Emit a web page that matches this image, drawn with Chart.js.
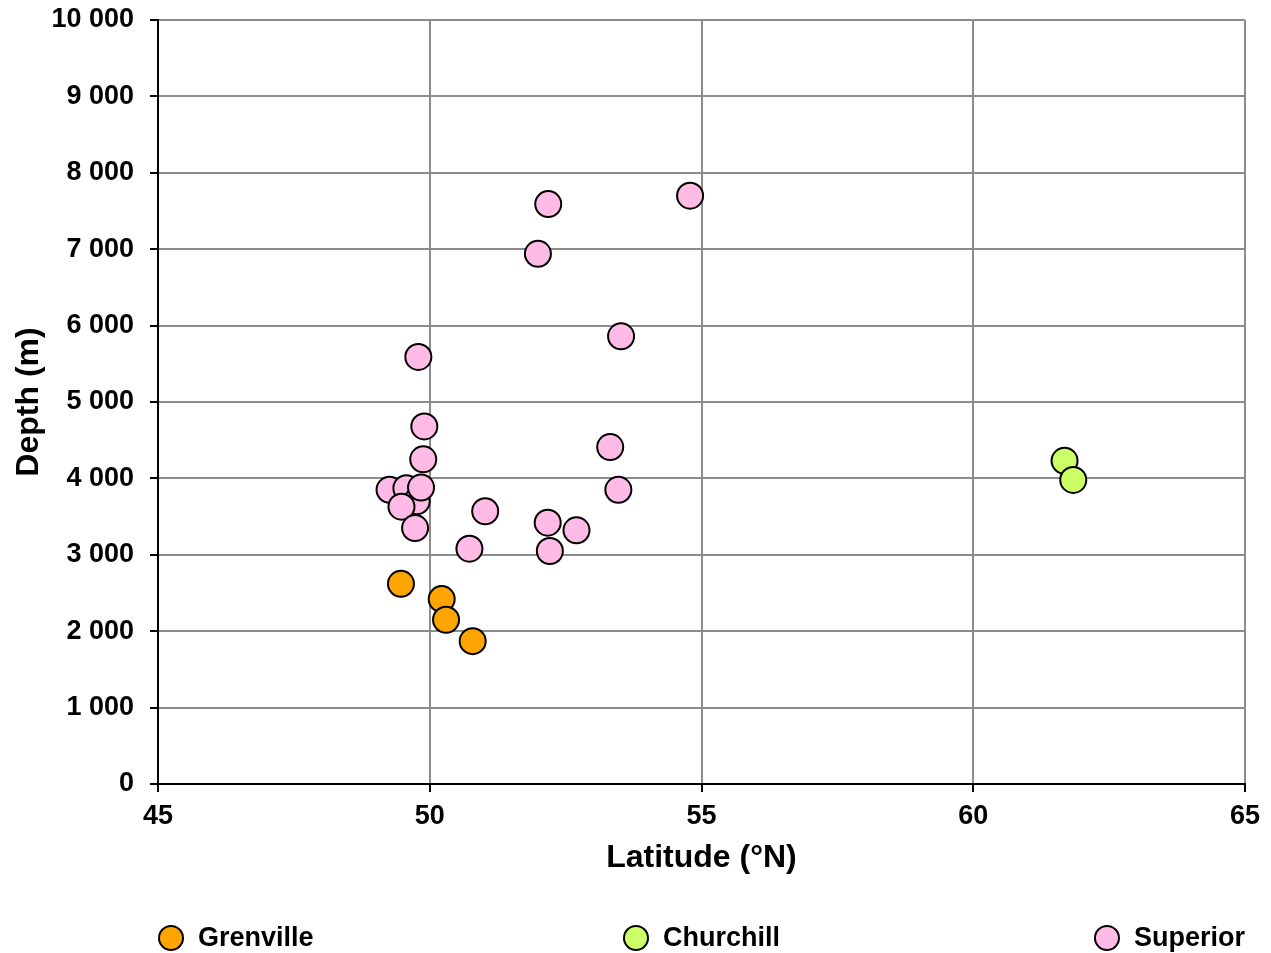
<!DOCTYPE html>
<html>
<head>
<meta charset="utf-8">
<script src="https://cdn.jsdelivr.net/npm/chart.js@4.4.0/dist/chart.umd.min.js"></script>
<style>
  html, body { margin: 0; padding: 0; background: #fff; }
  #wrap { width: 1271px; height: 953px; }
</style>
</head>
<body>
<div id="wrap"><canvas id="depthChart"></canvas></div>
<script>
// Latitude (°N) / depth (m) per province
var grenvilleLat = [49.47, 50.22, 50.30, 50.79];
var grenvilleDepth = [2620, 2420, 2150, 1870];

var churchillLat = [61.68, 61.84];
var churchillDepth = [4230, 3980];

var superiorLat = [49.79, 49.90, 49.88, 49.26, 49.57, 49.76, 49.84, 49.48, 49.73,
                   51.02, 50.73, 52.17, 52.70, 52.21, 53.32, 53.47, 53.52,
                   52.18, 51.99, 54.79];
var superiorDepth = [5590, 4680, 4250, 3850, 3870, 3700, 3880, 3630, 3350,
                     3570, 3080, 3420, 3320, 3050, 4410, 3850, 5860,
                     7590, 6940, 7700];

var seriesNames = ['Grenville', 'Churchill', 'Superior'];
var seriesColors = ['#FFA500', '#CCFF66', '#FFBBE6'];

var xTicks = [45, 50, 55, 60, 65];
var yTicks = [0, 1000, 2000, 3000, 4000, 5000, 6000, 7000, 8000, 9000, 10000];

function toPoints(xs, ys) {
    return xs.map(function (x, i) { return { x: x, y: ys[i] }; });
}

var FONT = '"Liberation Sans", Arial, sans-serif';

// legend spread across the width of the plot area
var spreadLegend = {
    id: 'spreadLegend',
    afterDraw: function (chart) {
        var ctx = chart.ctx;
        var area = chart.chartArea;
        var y = 938;
        var r = 12;
        ctx.save();
        ctx.font = 'bold 27px ' + FONT;
        ctx.textBaseline = 'middle';
        var items = chart.data.datasets.map(function (ds) {
            var w = ctx.measureText(ds.label).width;
            return { ds: ds, w: 2 * r + 16 + w };
        });
        items.forEach(function (it, i) {
            var left;
            if (i === 0) left = area.left;
            else if (i === items.length - 1) left = area.right - it.w;
            else left = (area.left + area.right) / 2 - it.w / 2;
            ctx.beginPath();
            ctx.arc(left + r + 1, y, r, 0, Math.PI * 2);
            ctx.fillStyle = it.ds.backgroundColor;
            ctx.fill();
            ctx.lineWidth = 2;
            ctx.strokeStyle = '#000';
            ctx.stroke();
            ctx.fillStyle = '#000';
            ctx.textAlign = 'left';
            ctx.fillText(it.ds.label, left + 2 * r + 16, y + 1);
        });
        ctx.restore();
    }
};

var ctx = document.getElementById('depthChart').getContext('2d');

var myChart = new Chart(ctx, {
    type: 'scatter',
    data: {
        datasets: [
            {
                label: seriesNames[0],
                data: toPoints(grenvilleLat, grenvilleDepth),
                backgroundColor: seriesColors[0],
                borderColor: '#000',
                borderWidth: 2,
                pointRadius: 13,
                pointHoverRadius: 13
            },
            {
                label: seriesNames[1],
                data: toPoints(churchillLat, churchillDepth),
                backgroundColor: seriesColors[1],
                borderColor: '#000',
                borderWidth: 2,
                pointRadius: 13,
                pointHoverRadius: 13
            },
            {
                label: seriesNames[2],
                data: toPoints(superiorLat, superiorDepth),
                backgroundColor: seriesColors[2],
                borderColor: '#000',
                borderWidth: 2,
                pointRadius: 13,
                pointHoverRadius: 13
            }
        ]
    },
    options: {
        responsive: true,
        maintainAspectRatio: false,
        animation: false,
        layout: {
            padding: { top: 20, left: 0, right: 26, bottom: 59 }
        },
        plugins: {
            legend: { display: false },
            tooltip: { enabled: false }
        },
        scales: {
            x: {
                type: 'linear',
                min: 45,
                max: 65,
                afterFit: function (scale) {
                    scale.height = 110;
                    scale.paddingLeft = 0;
                    scale.paddingRight = 0;
                },
                afterBuildTicks: function (scale) {
                    scale.ticks = xTicks.map(function (v) { return { value: v }; });
                },
                ticks: {
                    color: '#000',
                    padding: 8,
                    font: { family: FONT, size: 27, weight: 'bold' }
                },
                grid: {
                    color: '#8c8c8c',
                    lineWidth: 2,
                    tickColor: '#000',
                    tickLength: 8
                },
                border: { color: '#000', width: 2 },
                title: {
                    display: true,
                    text: 'Latitude (°N)',
                    color: '#000',
                    padding: { top: 0, bottom: 17 },
                    font: { family: FONT, size: 32, weight: 'bold' }
                }
            },
            y: {
                type: 'linear',
                min: 0,
                max: 10000,
                afterFit: function (scale) {
                    scale.width = 158;
                    scale.paddingTop = 0;
                    scale.paddingBottom = 0;
                },
                afterBuildTicks: function (scale) {
                    scale.ticks = yTicks.map(function (v) { return { value: v }; });
                },
                ticks: {
                    color: '#000',
                    padding: 16,
                    font: { family: FONT, size: 27, weight: 'bold' },
                    callback: function (v) {
                        return String(v).replace(/\B(?=(\d{3})+(?!\d))/g, ' ');
                    }
                },
                grid: {
                    color: '#8c8c8c',
                    lineWidth: 2,
                    tickColor: '#000',
                    tickLength: 8
                },
                border: { color: '#000', width: 2 },
                title: {
                    display: true,
                    text: 'Depth (m)',
                    color: '#000',
                    padding: { top: 10, bottom: 0 },
                    font: { family: FONT, size: 32, weight: 'bold' }
                }
            }
        }
    },
    plugins: [spreadLegend]
});
</script>
</body>
</html>
